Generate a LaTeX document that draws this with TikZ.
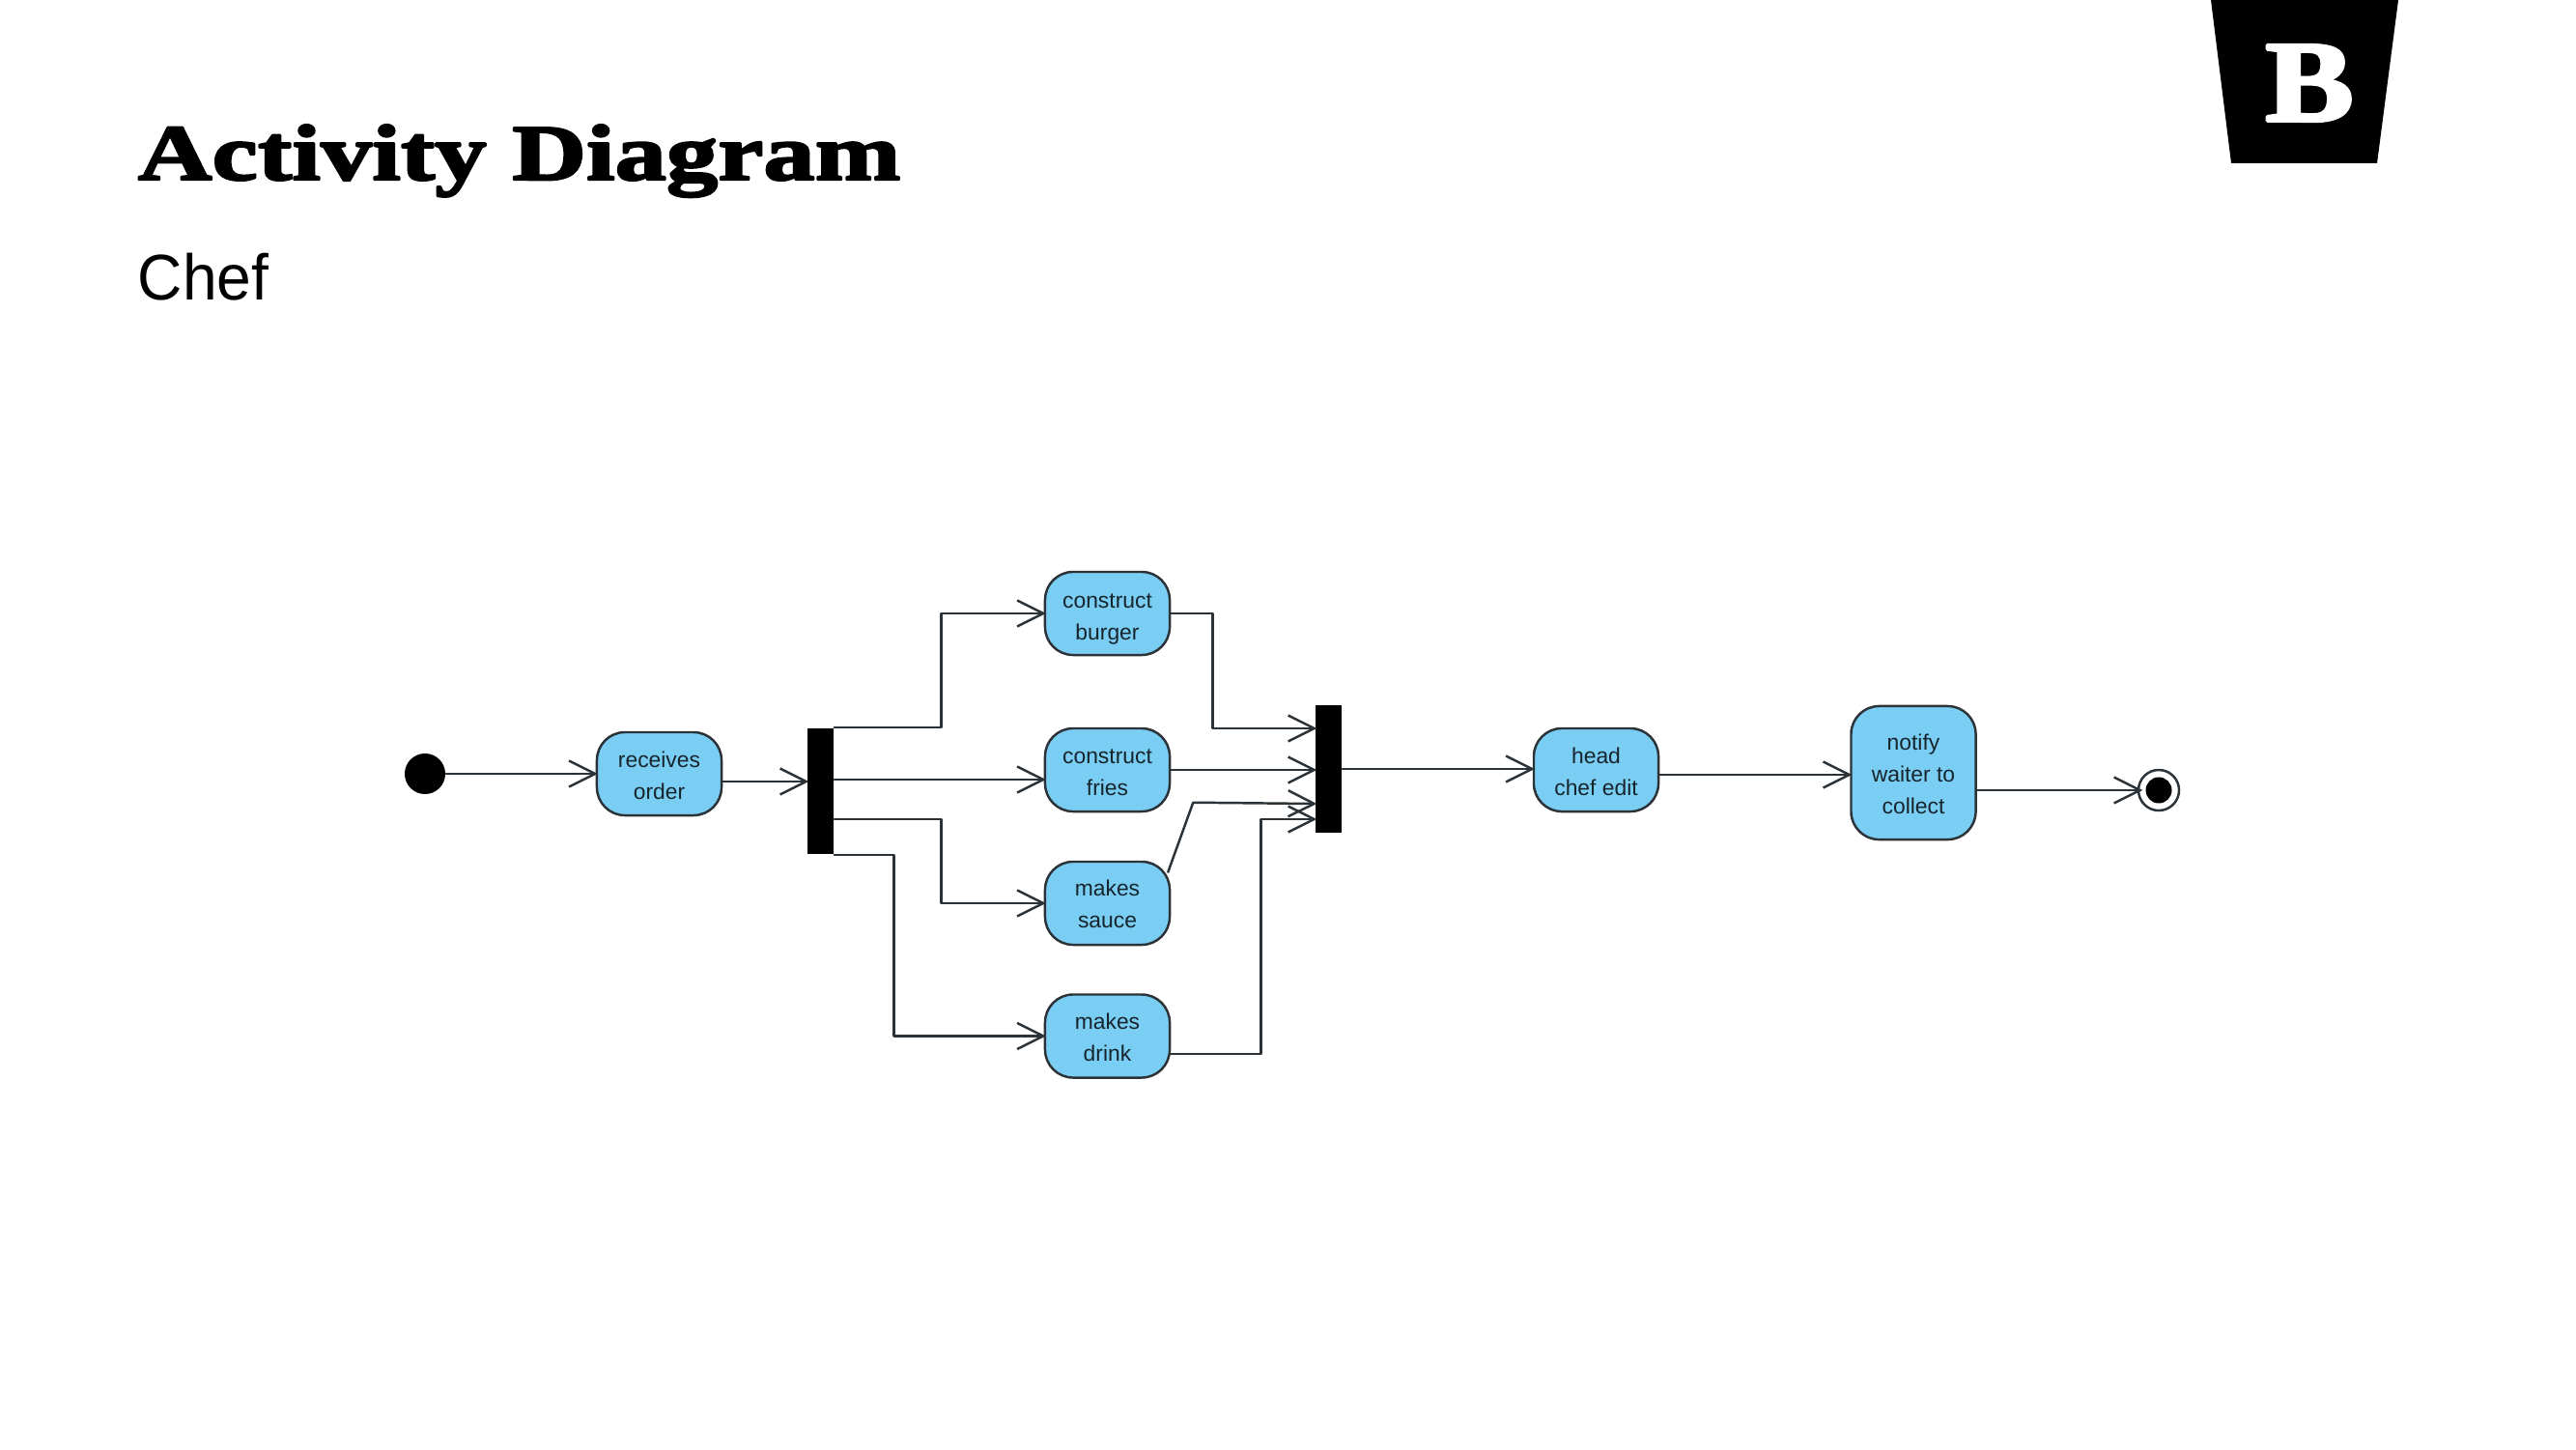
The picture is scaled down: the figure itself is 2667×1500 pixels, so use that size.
\documentclass[tikz,border=0pt]{standalone}
\usepackage{fontspec}
\setmainfont{Liberation Sans}
\newfontfamily\titlefont[FakeStretch=1.3,BoldFeatures={FakeBold=3}]{Liberation Serif}
\newfontfamily\logofont[FakeStretch=1.15,BoldFeatures={FakeBold=3}]{Liberation Serif}
\newfontfamily\chieffont[FakeStretch=0.96]{Liberation Sans}
\usepackage{tikz}
\usetikzlibrary{arrows.meta,calc}

\definecolor{actblue}{HTML}{7ACEF4}
\definecolor{actline}{HTML}{2B3338}
\definecolor{acttext}{HTML}{16242C}

\newcommand{\lift}[1]{\rule{0pt}{#1}}

\begin{document}
\begin{tikzpicture}[x=0.01cm, y=-0.01cm, line cap=round, line join=round]
  % ---- Styles ----
  \tikzset{
    activity/.style={draw=actline, fill=actblue, line width=0.7pt, rounded corners=2.9mm,
      minimum width=1.29cm, minimum height=0.86cm, inner sep=0pt, align=center,
      text=acttext, font=\fontsize{6.5}{9.4}\selectfont},
    bar/.style={fill=black, inner sep=0pt, minimum width=0.27cm},
    flow/.style={-{Straight Barb[length=2.7mm,width=2.7mm]}, draw=actline, line width=0.7pt, shorten >=-0.6pt},
    dot/.style={circle, fill=black, inner sep=0pt},
  }

  \useasboundingbox (0,0) rectangle (2667,1500);

  % ---- Header ----
  \node[anchor=base west, inner sep=0pt, font=\titlefont\bfseries\fontsize{23.3}{28}\selectfont] (title) at (142,186) {Activity Diagram};
  \node[anchor=base west, inner sep=0pt, font=\chieffont\fontsize{19}{22}\selectfont] (subtitle) at (142,310) {Chef};

  % Logo
  \fill[black] (2289,0) -- (2483,0) -- (2461,169) -- (2310,169) -- cycle;
  \node[anchor=base, inner sep=0pt, text=white, font=\logofont\bfseries\fontsize{34}{40}\selectfont] (logo) at (2391,125) {B};

  % ---- Activities ----
  \node[activity] (receives) at (682.5,801) {\lift{5.8pt}receives\\order};
  \node[activity] (burger) at (1146.5,635) {\lift{7.7pt}construct\\burger};
  \node[activity] (fries) at (1146.5,797) {\lift{5.8pt}construct\\fries};
  \node[activity] (sauce) at (1146.5,935) {\lift{5.2pt}makes\\sauce};
  \node[activity] (drink) at (1146.5,1072.5) {\lift{5.2pt}makes\\drink};
  \node[activity] (head) at (1652.5,797) {\lift{5.5pt}head\\chef edit};
  \node[activity, minimum height=1.38cm] (notify) at (1981,800) {\lift{5.5pt}notify\\waiter to\\collect};

  % Fork and join bars
  \node[bar, minimum height=1.3cm] (fork) at (849.5,819) {};
  \node[bar, minimum height=1.32cm] (join) at (1375.5,796) {};

  % Start and end
  \node[dot, minimum size=0.42cm] (start) at (440,801) {};
  \node[circle, draw=actline, fill=white, line width=0.7pt, inner sep=0pt, minimum size=0.42cm] (finish) at (2235,818) {};
  \node[dot, minimum size=0.27cm] (finishdot) at (finish) {};

  % ---- Flows ----
  \draw[flow] (start) -- (receives);
  \draw[flow] ($(receives.east)+(0,8)$) -- ($(fork.west)+(0,-10)$);

  % Fork outputs
  \draw[flow] (fork.north east) -- ++(111,0) |- (burger.west);
  \draw[flow] ($(fork.east)+(0,-12)$) -- ($(fries.west)+(0,10)$);
  \draw[flow] ($(fork.east)+(0,29)$) -- ++(111,0) |- (sauce.west);
  \draw[flow] (fork.south east) -- ++(62,0) |- (drink.west);

  % Join inputs
  \draw[flow] (burger.east) -- ++(43,0) |- ($(join.west)+(0,-42)$);
  \draw[flow] (fries.east) -- (join.west |- fries.east);
  \draw[flow] ($(sauce.north east)+(-3,12)$) -- ++(26,-72) -- ($(join.west)+(0,36)$);
  \draw[flow] ($(drink.east)+(0,18.5)$) -- ++(93,0) |- ($(join.west)+(0,52)$);

  % To the end
  \draw[flow] (join.east) -- (join.east -| head.west);
  \draw[flow] ($(head.east)+(0,5)$) -- ($(notify.west)+(0,2)$);
  \draw[flow, shorten >=-1.6pt] ($(notify.east)+(0,18)$) -- (finish.west);
\end{tikzpicture}
\end{document}
